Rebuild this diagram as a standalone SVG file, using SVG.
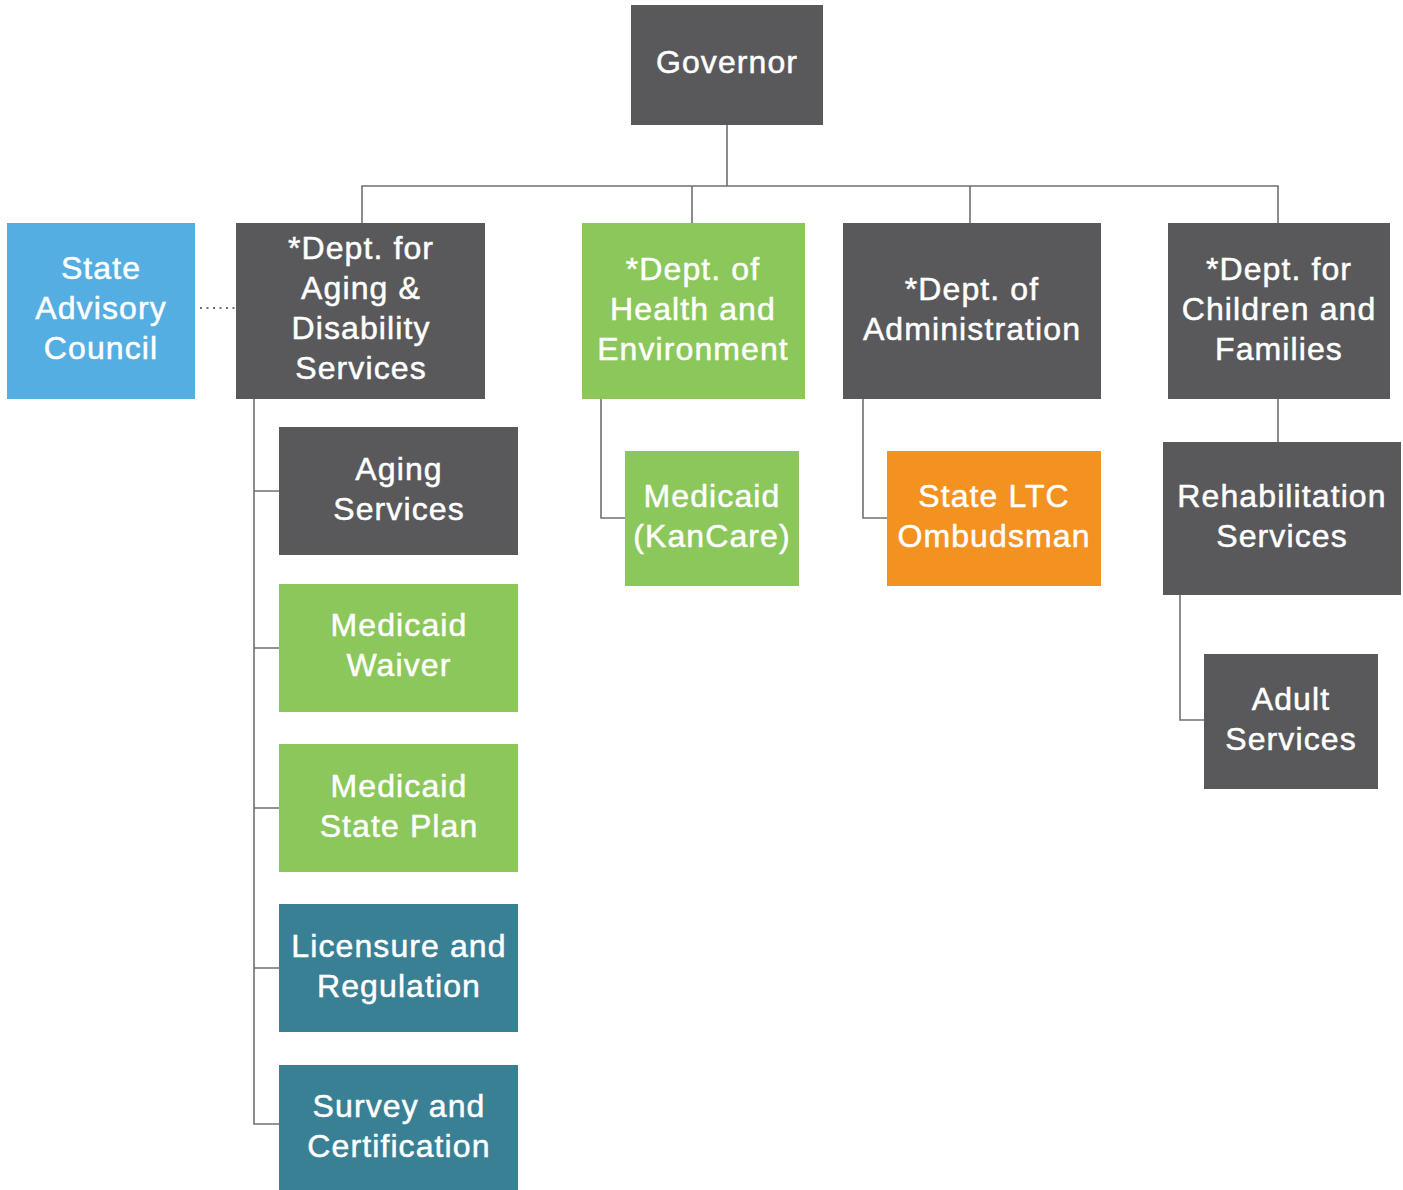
<svg xmlns="http://www.w3.org/2000/svg" width="1403" height="1190" viewBox="0 0 1403 1190">
<style>
.dark{fill:#59595b}
.green{fill:#8bc75b}
.teal{fill:#3a8094}
.orange{fill:#f39221}
.blue{fill:#55aee2}
text{font-family:"Liberation Sans",Arial,sans-serif;font-size:32px;fill:#ffffff;stroke:#ffffff;stroke-width:0.5;text-anchor:middle;letter-spacing:1.1px}
.conn{fill:none;stroke:#707072;stroke-width:1.6}
.dot{fill:none;stroke:#707072;stroke-width:2;stroke-dasharray:2 4.5}
</style>
<rect width="1403" height="1190" fill="#ffffff"/>
<g id="connectors">
<path class="conn" d="M727 125V186M362 223V186H1278V223M692 186V223M970 186V223"/>
<path class="conn" d="M254 399V1124H279M254 491H279M254 648H279M254 808H279M254 968H279"/>
<path class="conn" d="M601 399V518H625"/>
<path class="conn" d="M863 399V518H887"/>
<path class="conn" d="M1278 399V442"/>
<path class="conn" d="M1180 595V720H1204"/>
<path class="dot" d="M200 308H236"/>
</g>
<g id="governor"><rect class="dark" x="631" y="5" width="192" height="120"/><text x="727" y="73">Governor</text></g>
<g id="advisory"><rect class="blue" x="7" y="223" width="188" height="176"/><text x="101" y="279">State</text><text x="101" y="319">Advisory</text><text x="101" y="359">Council</text></g>
<g id="aging-dept"><rect class="dark" x="236" y="223" width="249" height="176"/><text x="361" y="259">*Dept. for</text><text x="361" y="299">Aging &amp;</text><text x="361" y="339">Disability</text><text x="361" y="379">Services</text></g>
<g id="health"><rect class="green" x="582" y="223" width="223" height="176"/><text x="693" y="280">*Dept. of</text><text x="693" y="320">Health and</text><text x="693" y="360">Environment</text></g>
<g id="admin"><rect class="dark" x="843" y="223" width="258" height="176"/><text x="972" y="300">*Dept. of</text><text x="972" y="340">Administration</text></g>
<g id="children"><rect class="dark" x="1168" y="223" width="222" height="176"/><text x="1279" y="280">*Dept. for</text><text x="1279" y="320">Children and</text><text x="1279" y="360">Families</text></g>
<g id="aging-services"><rect class="dark" x="279" y="427" width="239" height="128"/><text x="399" y="480">Aging</text><text x="399" y="520">Services</text></g>
<g id="medicaid-waiver"><rect class="green" x="279" y="584" width="239" height="128"/><text x="399" y="636">Medicaid</text><text x="399" y="676">Waiver</text></g>
<g id="medicaid-state-plan"><rect class="green" x="279" y="744" width="239" height="128"/><text x="399" y="797">Medicaid</text><text x="399" y="837">State Plan</text></g>
<g id="licensure"><rect class="teal" x="279" y="904" width="239" height="128"/><text x="399" y="957">Licensure and</text><text x="399" y="997">Regulation</text></g>
<g id="survey"><rect class="teal" x="279" y="1065" width="239" height="125"/><text x="399" y="1117">Survey and</text><text x="399" y="1157">Certification</text></g>
<g id="kancare"><rect class="green" x="625" y="451" width="174" height="135"/><text x="712" y="507">Medicaid</text><text x="712" y="547">(KanCare)</text></g>
<g id="ltc"><rect class="orange" x="887" y="451" width="214" height="135"/><text x="994" y="507">State LTC</text><text x="994" y="547">Ombudsman</text></g>
<g id="rehab"><rect class="dark" x="1163" y="442" width="238" height="153"/><text x="1282" y="507">Rehabilitation</text><text x="1282" y="547">Services</text></g>
<g id="adult"><rect class="dark" x="1204" y="654" width="174" height="135"/><text x="1291" y="710">Adult</text><text x="1291" y="750">Services</text></g>
</svg>
